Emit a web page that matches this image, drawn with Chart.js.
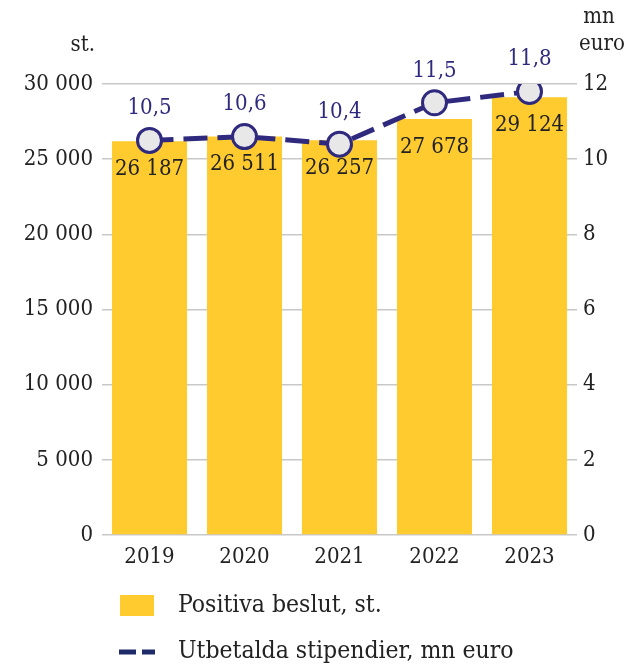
<!DOCTYPE html>
<html><head><meta charset="utf-8">
<script src="https://cdn.jsdelivr.net/npm/chart.js@4"></script>
<style>html,body{margin:0;padding:0;background:#fff}#wrap{width:628px;height:664px;position:relative}</style>
</head><body><div id="wrap"><canvas id="c" width="628" height="664"></canvas></div>
<script>
const categories = ['2019','2020','2021','2022','2023'];
const beslut = [26187, 26511, 26257, 27678, 29124];
const stipendier = [10.5, 10.6, 10.4, 11.5, 11.8];
const leftTicks = [0, 5000, 10000, 15000, 20000, 25000, 30000];
const rightTicks = [0, 2, 4, 6, 8, 10, 12];
const legendLabels = ['Positiva beslut, st.', 'Utbetalda stipendier, mn euro'];

const FONT = '"DejaVu Serif Condensed", "DejaVu Serif", serif';
const FS = 22;
const YELLOW = '#FFCB2F', NAVY = '#2F2A7E', TEXT = '#222222';
const fmt = v => String(v).replace(/\B(?=(\d{3})+(?!\d))/g, ' ');
const fmtDec = v => v.toFixed(1).replace('.', ',');

const labelsPlugin = {
  id: 'labels',
  afterDatasetDraw(chart, args) {
    const ctx = chart.ctx;
    const ds = chart.data.datasets[args.index];
    const meta = args.meta;
    ctx.save();
    ctx.font = FS + 'px ' + FONT;
    ctx.textAlign = 'center';
    ctx.textBaseline = 'middle';
    if (ds.type === 'bar') {
      ctx.fillStyle = TEXT;
      meta.data.forEach((el, i) => ctx.fillText(fmt(ds.data[i]), el.x, el.y + 28));
    } else {
      ctx.fillStyle = NAVY;
      meta.data.forEach((el, i) => ctx.fillText(fmtDec(ds.data[i]), el.x, el.y - 32));
    }
    ctx.restore();
  },
  afterDraw(chart) {
    const ctx = chart.ctx;
    ctx.save();
    ctx.font = FS + 'px ' + FONT;
    ctx.fillStyle = TEXT;
    ctx.textBaseline = 'middle';
    ctx.textAlign = 'right';
    ctx.fillText('st.', 95, 45);
    ctx.textAlign = 'center';
    ctx.fillText('mn', 599, 17);
    ctx.fillText('euro', 602, 44);
    // legend
    ctx.fillStyle = YELLOW;
    ctx.fillRect(120, 595, 34, 21);
    ctx.strokeStyle = '#1E2A6A';
    ctx.lineWidth = 5;
    ctx.beginPath();
    ctx.moveTo(119, 652); ctx.lineTo(136, 652);
    ctx.moveTo(142, 652); ctx.lineTo(155, 652);
    ctx.stroke();
    ctx.font = '24.5px ' + FONT;
    ctx.fillStyle = TEXT;
    ctx.textAlign = 'left';
    ctx.fillText(legendLabels[0], 178, 606);
    ctx.fillText(legendLabels[1], 178, 652);
    ctx.restore();
  }
};

new Chart(document.getElementById('c'), {
  data: {
    labels: categories,
    datasets: [
      { type: 'line', label: legendLabels[1], data: stipendier, yAxisID: 'y1', order: 0,
        borderColor: NAVY, borderWidth: 5, borderDash: [24, 10], tension: 0,
        pointRadius: 12, pointHoverRadius: 12, pointBorderWidth: 3,
        pointBackgroundColor: '#E8E8E8', pointBorderColor: NAVY },
      { type: 'bar', label: legendLabels[0], data: beslut, yAxisID: 'y', order: 1,
        backgroundColor: YELLOW, barPercentage: 0.79, categoryPercentage: 1.0 }
    ]
  },
  options: {
    responsive: false, animation: false,
    layout: { padding: { top: 84, left: 0, right: 0, bottom: 0 } },
    plugins: { legend: { display: false }, tooltip: { enabled: false } },
    scales: {
      x: {
        grid: { display: false }, border: { display: false },
        ticks: { color: TEXT, font: { family: FONT, size: FS }, padding: 1 },
        afterFit(s) { s.height = 129; }
      },
      y: {
        position: 'left', min: 0, max: 30000,
        afterBuildTicks(s) { s.ticks = leftTicks.map(v => ({ value: v })); },
        grid: { color: '#C8C8C8', lineWidth: 1.5, drawTicks: false },
        border: { display: false },
        ticks: { color: TEXT, font: { family: FONT, size: FS }, padding: 9, callback: v => fmt(v) },
        afterFit(s) { s.width = 102; }
      },
      y1: {
        position: 'right', min: 0, max: 12,
        afterBuildTicks(s) { s.ticks = rightTicks.map(v => ({ value: v })); },
        grid: { display: false, drawTicks: false }, border: { display: false },
        ticks: { color: TEXT, font: { family: FONT, size: FS }, padding: 6, callback: v => String(v) },
        afterFit(s) { s.width = 51; }
      }
    }
  },
  plugins: [labelsPlugin]
});
</script></body></html>
